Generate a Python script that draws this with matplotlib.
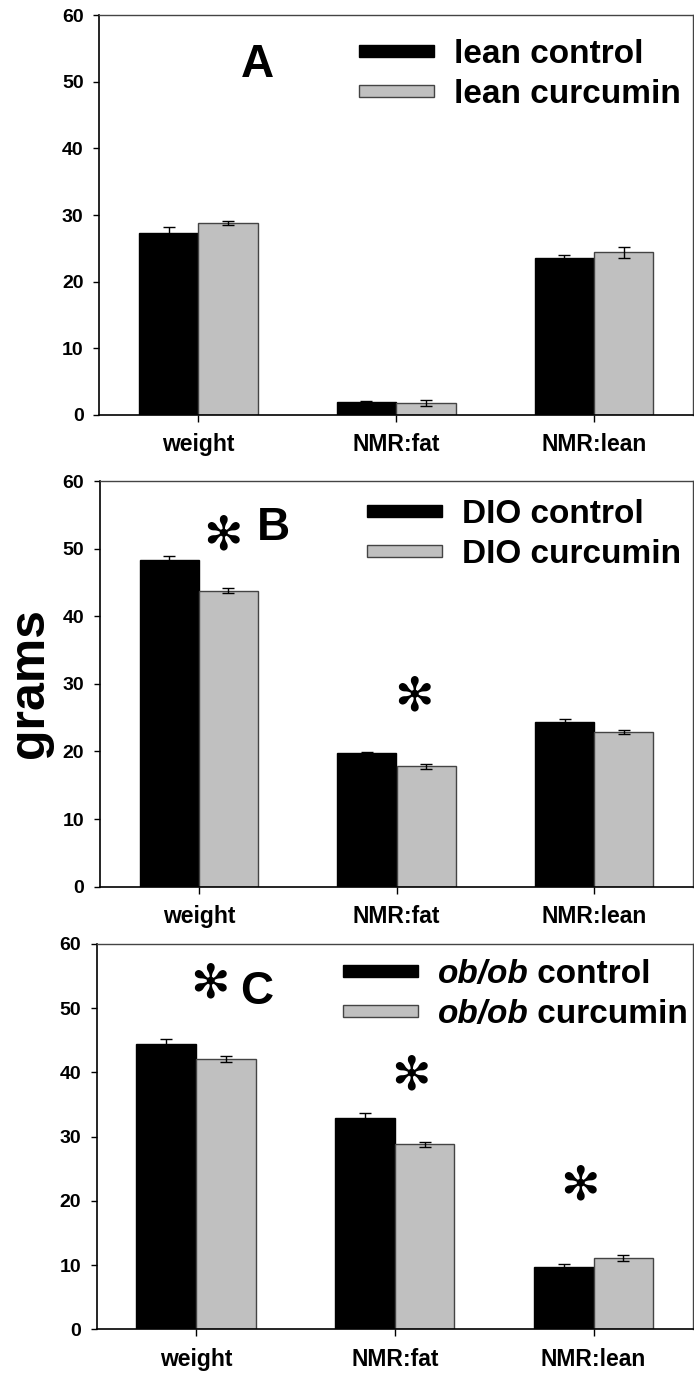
import numpy as np
import matplotlib.pyplot as plt
from matplotlib.patches import Rectangle

plt.rcParams['font.family'] = 'Liberation Sans'
plt.rcParams['font.weight'] = 'bold'

W, H = 694, 1377

# data (grams, mean +/- SEM)
categories = ["weight", "NMR:fat", "NMR:lean"]

lean_control = [27.35, 1.95, 23.55]
lean_control_err = [0.9, 0.2, 0.4]
lean_curcumin = [28.75, 1.8, 24.4]
lean_curcumin_err = [0.3, 0.5, 0.85]

dio_control = [48.3, 19.7, 24.35]
dio_control_err = [0.6, 0.2, 0.5]
dio_curcumin = [43.8, 17.8, 22.9]
dio_curcumin_err = [0.35, 0.4, 0.3]

obob_control = [44.4, 32.85, 9.75]
obob_control_err = [0.8, 0.85, 0.45]
obob_curcumin = [42.15, 28.8, 11.15]
obob_curcumin_err = [0.45, 0.4, 0.45]

# significance marks: (x in category units, y in grams)
stars_lean = []
stars_dio = [(0.12, 51.8), (1.09, 27.9)]
stars_obob = [(0.07, 53.6), (1.08, 39.3), (1.93, 22.2)]

# legend labels as (text, style) pieces
labels_lean = [[("lean control", "normal")], [("lean curcumin", "normal")]]
labels_dio = [[("DIO control", "normal")], [("DIO curcumin", "normal")]]
labels_obob = [[("ob/ob", "italic"), (" control", "normal")],
               [("ob/ob", "italic"), (" curcumin", "normal")]]

GREY = "#c0c0c0"


def px(x, y):
    return x / W, 1 - y / H


fig = plt.figure(figsize=(W / 100, H / 100), dpi=100)
renderer = fig.canvas.get_renderer()

panels = [
    # axes box in pixels (left, top, right, bottom), panel letter, legend position
    dict(box=(99.3, 15, 693, 415), letter="A", lpos=(0.3, 50.7),
         ctrl=lean_control, ctrl_err=lean_control_err,
         cur=lean_curcumin, cur_err=lean_curcumin_err,
         labels=labels_lean, leg=(359, 45), stars=stars_lean),
    dict(box=(100, 481, 693, 886.7), letter="B", lpos=(0.375, 51.3),
         ctrl=dio_control, ctrl_err=dio_control_err,
         cur=dio_curcumin, cur_err=dio_curcumin_err,
         labels=labels_dio, leg=(367, 505), stars=stars_dio),
    dict(box=(96.7, 944, 693, 1329.3), letter="C", lpos=(0.306, 50.7),
         ctrl=obob_control, ctrl_err=obob_control_err,
         cur=obob_curcumin, cur_err=obob_curcumin_err,
         labels=labels_obob, leg=(342.7, 965), stars=stars_obob),
]

x = np.arange(len(categories))
bw = 0.3

for p in panels:
    l, t, r, b = p["box"]
    ax = fig.add_axes([l / W, 1 - b / H, (r - l) / W, (b - t) / H])

    ax.bar(x - bw / 2, p["ctrl"], bw, color="black", edgecolor="black", linewidth=1)
    ax.bar(x + bw / 2, p["cur"], bw, color=GREY, edgecolor="#444444", linewidth=1)
    ax.errorbar(x - bw / 2, p["ctrl"], yerr=p["ctrl_err"], fmt="none",
                ecolor="black", elinewidth=1, capsize=4.5, capthick=1)
    ax.errorbar(x + bw / 2, p["cur"], yerr=p["cur_err"], fmt="none",
                ecolor="black", elinewidth=1, capsize=4.5, capthick=1)

    ax.set_xlim(-0.5, 2.5)
    ax.set_ylim(0, 60)
    ax.set_yticks(range(0, 61, 10))
    ax.set_xticks(x)
    ax.set_xticklabels(categories, fontsize=16.5, fontweight="bold")
    ax.tick_params(axis="y", length=4.3, width=1, pad=7, labelsize=14)
    ax.tick_params(axis="x", length=4.8, width=1, pad=8.5)
    for s in ["left", "bottom"]:
        ax.spines[s].set_linewidth(1.2)
    for s in ["top", "right"]:
        ax.spines[s].set_color("#444444")
        ax.spines[s].set_linewidth(1.0)

    ax.text(p["lpos"][0], p["lpos"][1], p["letter"], fontsize=33,
            fontweight="bold", ha="center", va="baseline")

    for sx, sy in p["stars"]:
        ax.text(sx, sy, "\u273b", family="DejaVu Sans", fontsize=34,
                ha="center", va="center")

    # legend, drawn by hand to sit like the original
    lx, ly = p["leg"]
    for i, (pieces, col) in enumerate(zip(p["labels"], ["black", GREY])):
        top = ly + 40 * i
        x0, y0 = px(lx, top + 12)
        ec = "black" if col == "black" else "#444444"
        fig.patches.append(Rectangle((x0, y0), 75 / W, 12 / H, transform=fig.transFigure,
                                     facecolor=col, edgecolor=ec, linewidth=1))
        tx, ty = px(lx + 95, top + 18)
        for txt, style in pieces:
            tt = fig.text(tx, ty, txt, fontsize=24, fontweight="bold", style=style,
                          va="baseline", ha="left")
            tx = tt.get_window_extent(renderer=renderer).x1 / fig.bbox.width

gx, gy = px(30, 683)
fig.text(gx, gy, "grams", rotation=90, fontsize=36, fontweight="bold",
         ha="center", va="center")

fig.savefig("out.png", dpi=100)
